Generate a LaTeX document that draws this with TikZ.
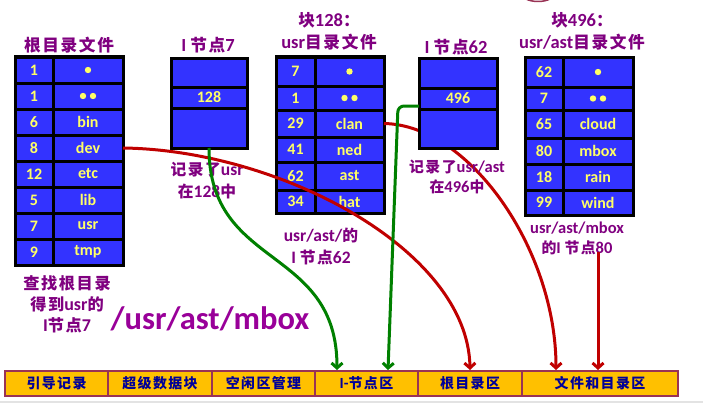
\documentclass[tikz,border=0pt]{standalone}
\usepackage{fontspec}
\setmainfont{Carlito}
\newfontfamily\cjk{Noto Sans CJK SC}[LetterSpace=10, Scale=0.9]
\usetikzlibrary{arrows.meta}
\definecolor{cellblue}{HTML}{3333FF}
\definecolor{celltext}{HTML}{FFFF66}
\definecolor{ttlc}{HTML}{800080}
\definecolor{bigc}{HTML}{990099}
\definecolor{barfill}{HTML}{FFC000}
\definecolor{barline}{HTML}{993355}
\definecolor{bartext}{HTML}{000099}
\definecolor{arrred}{HTML}{C00000}
\definecolor{arrgreen}{HTML}{008000}
\definecolor{edgegray}{HTML}{E3E3E3}
\newcommand\mkcell[6]{\node[cell, minimum width=#4pt, minimum height=#5pt] (#1) at (#2,#3) {#6};}
\newcommand\onedot[1]{\fill[celltext] (#1.center) circle (3.2);}
\newcommand\twodots[1]{\fill[celltext] ([xshift=-5pt]#1.center) circle (3.2); \fill[celltext] ([xshift=5pt]#1.center) circle (3.2);}
\begin{document}
\begin{tikzpicture}[x=1pt,y=-1pt,
  cell/.style={draw=black, line width=3pt, fill=cellblue, text=celltext,
    font=\bfseries\fontsize{16}{18}\selectfont, inner sep=0pt, outer sep=0pt, anchor=north west},
  ttl/.style={text=ttlc, font=\bfseries\fontsize{18.5}{22}\selectfont, inner sep=0pt, align=center},
  lbl/.style={text=ttlc, inner sep=0pt, align=center},
  bar/.style={draw=barline, line width=2pt, fill=barfill, text=bartext,
    font=\bfseries\fontsize{15.5}{16}\selectfont, minimum height=25pt, inner sep=0pt, outer sep=0pt, anchor=north west},
  redarr/.style={draw=arrred, line width=3pt, -{Straight Barb[length=5pt,width=11pt]}},
  greenarr/.style={draw=arrgreen, line width=3pt, -{Straight Barb[length=5pt,width=11pt]}}
]
\useasboundingbox (0,0) rectangle (703,404);
\fill[white] (0,0) rectangle (703,404);
\draw[line width=2pt, edgegray] (0,402) -- (703,402);
\draw[line width=1.5pt, barline] (538,-7) ellipse (17 and 8.5);

% connector passing under I-node 62
\coordinate (r2e) at (556,370);

% ---------- usr directory (block 128) ----------
\mkcell{ua1}{276}{57}{39}{29}{7}    \mkcell{ub1}{315}{57}{69}{29}{}
\mkcell{ua2}{276}{86}{39}{24}{1}    \mkcell{ub2}{315}{86}{69}{24}{}
\mkcell{ua3}{276}{110}{39}{27}{29}  \mkcell{ub3}{315}{110}{69}{27}{clan}
\mkcell{ua4}{276}{137}{39}{25}{41}  \mkcell{ub4}{315}{137}{69}{25}{ned}
\mkcell{ua5}{276}{162}{39}{28}{62}  \mkcell{ub5}{315}{162}{69}{28}{ast}
\mkcell{ua6}{276}{190}{39}{23}{34}  \mkcell{ub6}{315}{190}{69}{23}{hat}
\onedot{ub1} \twodots{ub2}

\draw[redarr] (ub3.east) .. controls (470,125) and (556,250) .. (r2e);

% ---------- root directory ----------
\mkcell{ra1}{15}{57}{38}{26}{1}   \mkcell{rb1}{53}{57}{70}{26}{}
\mkcell{ra2}{15}{83}{38}{26}{1}   \mkcell{rb2}{53}{83}{70}{26}{}
\mkcell{ra3}{15}{109}{38}{26}{6}  \mkcell{rb3}{53}{109}{70}{26}{bin}
\mkcell{ra4}{15}{135}{38}{26}{8}  \mkcell{rb4}{53}{135}{70}{26}{dev}
\mkcell{ra5}{15}{161}{38}{26}{12} \mkcell{rb5}{53}{161}{70}{26}{etc}
\mkcell{ra6}{15}{187}{38}{26}{5}  \mkcell{rb6}{53}{187}{70}{26}{lib}
\mkcell{ra7}{15}{213}{38}{26}{7}  \mkcell{rb7}{53}{213}{70}{26}{usr}
\mkcell{ra8}{15}{239}{38}{26}{9}  \mkcell{rb8}{53}{239}{70}{26}{tmp}
\onedot{rb1} \twodots{rb2}

% ---------- I-node 7 ----------
\mkcell{in7a}{171}{58}{76}{29}{}
\mkcell{in7b}{171}{87}{76}{21}{128}
\mkcell{in7c}{171}{108}{76}{40}{}

% ---------- I-node 62 ----------
\mkcell{in62a}{419}{58}{78}{30}{}
\mkcell{in62b}{419}{88}{78}{21}{496}
\mkcell{in62c}{419}{109}{78}{39}{}

% ---------- usr/ast directory (block 496) ----------
\mkcell{va1}{525}{57}{38}{30}{62}  \mkcell{vb1}{563}{57}{70}{30}{}
\mkcell{va2}{525}{87}{38}{23}{7}   \mkcell{vb2}{563}{87}{70}{23}{}
\mkcell{va3}{525}{110}{38}{28}{65} \mkcell{vb3}{563}{110}{70}{28}{cloud}
\mkcell{va4}{525}{138}{38}{26}{80} \mkcell{vb4}{563}{138}{70}{26}{mbox}
\mkcell{va5}{525}{164}{38}{26}{18} \mkcell{vb5}{563}{164}{70}{26}{rain}
\mkcell{va6}{525}{190}{38}{25}{99} \mkcell{vb6}{563}{190}{70}{25}{wind}
\onedot{vb1} \twodots{vb2}

% ---------- titles ----------
\node[ttl] (t1) at (69,45) {{\cjk 根目录文件}};
\node[ttl] (t2) at (208,45) {I {\cjk 节点}7};
\node[ttl] (t3) at (329,31) {{\cjk 块}128{\cjk ：}\\usr{\cjk 目录文件}};
\node[ttl] (t4) at (456,47) {I {\cjk 节点}62};
\node[ttl] (t5) at (582,31) {{\cjk 块}496{\cjk ：}\\usr/ast{\cjk 目录文件}};

% ---------- labels ----------
\node[lbl, font=\bfseries\fontsize{18}{21}\selectfont] (l1) at (67,304)
  {{\cjk 查找根目录}\\{\cjk 得到}usr{\cjk 的}\\I{\cjk 节点}7};
\node[lbl, font=\bfseries\fontsize{17.5}{22}\selectfont] (l2) at (207,181)
  {{\cjk 记录了}usr\\{\cjk 在}128{\cjk 中}};
\node[lbl, font=\bfseries\fontsize{17.5}{22}\selectfont] (l3) at (321,246)
  {usr/ast/{\cjk 的}\\I {\cjk 节点}62};
\node[lbl, font=\bfseries\fontsize{16.5}{20}\selectfont] (l4) at (457,177)
  {{\cjk 记录了}usr/ast\\{\cjk 在}496{\cjk 中}};
\node[lbl, font=\bfseries\fontsize{16.5}{20}\selectfont] (l5) at (577,238)
  {usr/ast/mbox\\{\cjk 的}I {\cjk 节点}80};
\node[text=bigc, font=\bfseries\fontsize{32.5}{36}\selectfont, inner sep=0pt, anchor=base] (big) at (210,329) {/usr/ast/mbox};

% ---------- bottom bar ----------
\node[bar, minimum width=103pt] (b1) at (5,371)   {{\cjk 引导记录}};
\node[bar, minimum width=104pt] (b2) at (108,371) {{\cjk 超级数据块}};
\node[bar, minimum width=103pt] (b3) at (212,371) {{\cjk 空闲区管理}};
\node[bar, minimum width=103pt] (b4) at (315,371) {I-{\cjk 节点区}};
\node[bar, minimum width=104pt] (b5) at (418,371) {{\cjk 根目录区}};
\node[bar, minimum width=156pt] (b6) at (522,371) {{\cjk 文件和目录区}};

% ---------- connectors ----------
\coordinate (r1e) at (470,370);
\coordinate (g1e) at (337,370);
\coordinate (g2e) at (388,370);
\coordinate (r3s) at (598,252);
\coordinate (r3e) at (598,370);
\draw[redarr] (rb4.east) .. controls (280,150) and (468,250) .. (r1e);
\draw[greenarr] (in7c.south) .. controls (209,270) and (337,245) .. (g1e);
\draw[greenarr, rounded corners=6pt] ([yshift=3pt]in62c.north west) -- (398,106) -- (g2e);
\draw[redarr] (r3s) -- (r3e);
\end{tikzpicture}
\end{document}
